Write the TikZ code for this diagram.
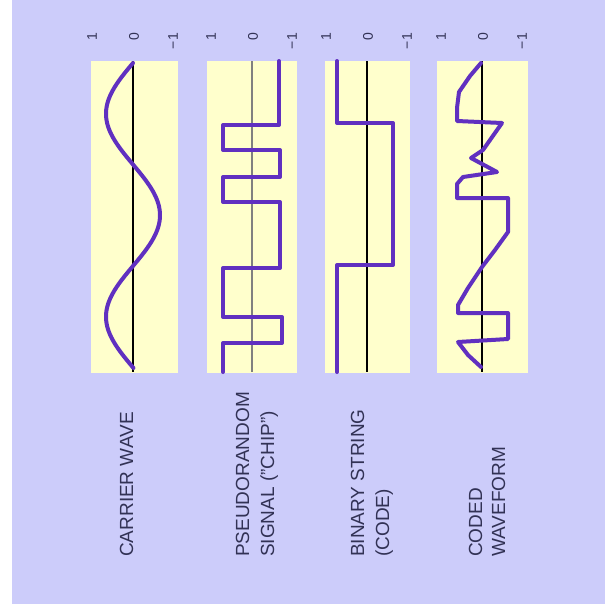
\documentclass[tikz,border=0pt]{standalone}
\usepackage{fontspec}
\setmainfont{Liberation Sans}
\definecolor{bgc}{RGB}{204,204,250}
\definecolor{panelc}{RGB}{255,255,204}
\definecolor{wavec}{RGB}{96,48,192}
\definecolor{txtc}{RGB}{50,50,85}
\begin{document}
\begin{tikzpicture}[x=1pt,y=-1pt,
  panelbox/.style={fill=panelc, draw=none},
  wave/.style={draw=wavec, line width=4pt, line join=round, line cap=round},
  axisline/.style={draw=black, line width=2.4pt},
  axislight/.style={draw=gray, line width=1.6pt},
  lab/.style={text=txtc, font=\fontsize{19}{22}\selectfont, inner sep=0pt, rotate=90, anchor=base west},
  tick/.style={text=txtc, font=\fontsize{14}{16}\selectfont, inner sep=0pt, rotate=90, anchor=east}]
\useasboundingbox (0,0) rectangle (605,616);
\fill[white] (0,0) rectangle (605,616);
\fill[bgc] (12,0) rectangle (605,604);
% panels
\path[panelbox] (91,61) rectangle (178,373);
\path[panelbox] (207,61) rectangle (297,373);
\path[panelbox] (325,61) rectangle (410,373);
\path[panelbox] (437,61) rectangle (528,373);
% tick labels
\foreach \c [count=\i] in {133,252,367,482}{
  \node[tick] (ta\i) at (\c-41,33) {1};
  \node[tick] (tb\i) at (\c+1,33) {0};
  \node[tick] (tc\i) at (\c+40,33) {−1};
}
% center lines
\draw[axisline] (133,61) -- (133,372);
\draw[axislight] (252,61) -- (252,372);
\draw[axisline] (367,61) -- (367,372);
\draw[axisline] (482,61) -- (482,372);
% carrier wave
\draw[wave] plot[domain=63:368, samples=120, smooth] ({133-27*sin(1.7734*(\x-63))}, \x);
% pseudorandom chip signal
\draw[wave] (279,61) -- (279,125) -- (223,125) -- (223,150) -- (280,150) -- (280,177)
  -- (223,177) -- (223,202) -- (280,202) -- (280,268) -- (223,268) -- (223,317)
  -- (282,317) -- (282,343) -- (223,343) -- (223,372);
% binary string
\draw[wave] (337,61) -- (337,123) -- (393,123) -- (393,265) -- (337,265) -- (337,372);
% coded waveform
\draw[wave] (481,63) -- (470,76) -- (459,92) -- (457,108) -- (457,121) -- (502,123)
  -- (483,150) -- (471,158) -- (497,172) -- (463,177) -- (457,184) -- (457,198)
  -- (508,198) -- (508,232) -- (495,250) -- (482,267) -- (468,288) -- (458,305)
  -- (458,313) -- (508,313) -- (508,339) -- (458,342) -- (468,355) -- (481,367);
% labels
\node[lab] (l1) at (133,557) {CARRIER WAVE};
\node[lab] (l2a) at (249,557) {PSEUDORANDOM};
\node[lab] (l2b) at (274,557) {SIGNAL ("CHIP")};
\node[lab] (l3a) at (364,557) {BINARY STRING};
\node[lab] (l3b) at (389,557) {(CODE)};
\node[lab] (l4a) at (482,557) {CODED};
\node[lab] (l4b) at (505,557) {WAVEFORM};
\end{tikzpicture}
\end{document}
